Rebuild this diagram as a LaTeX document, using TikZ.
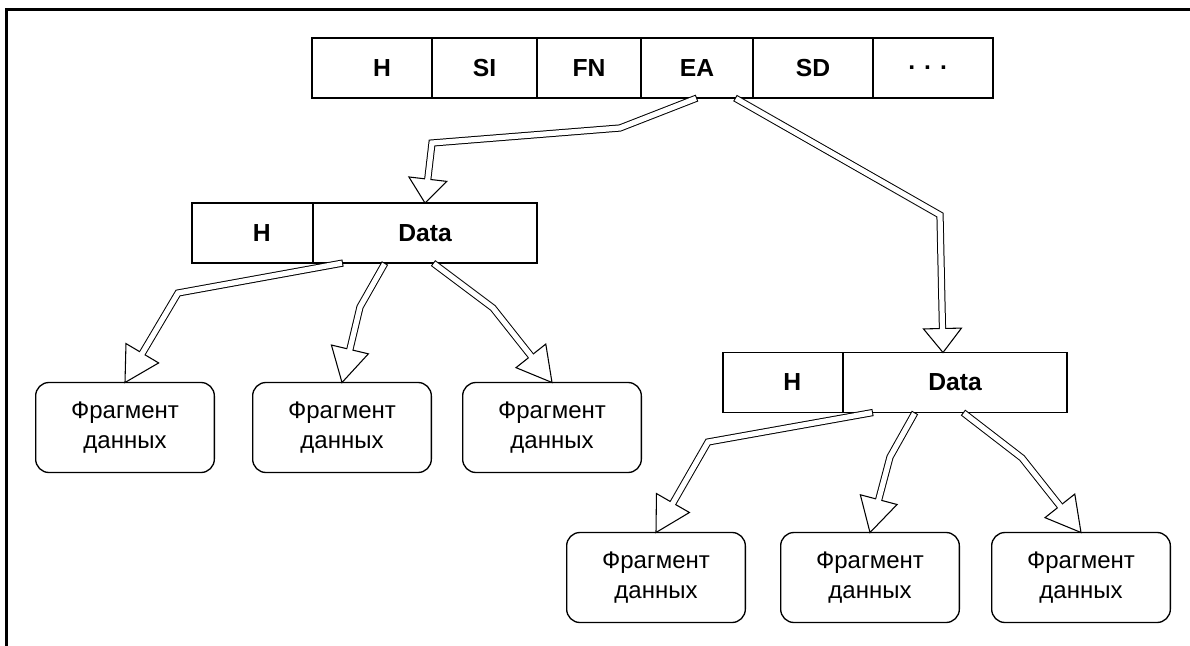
\documentclass[tikz,border=0pt]{standalone}
\usepackage{fontspec}
\setmainfont{Liberation Sans}
\usetikzlibrary{calc}

\tikzset{
  cell/.style={draw, line width=1pt, inner sep=0pt, outer sep=0pt,
    minimum width={#1*0.75pt}, minimum height=45pt,
    font=\bfseries\fontsize{18.5}{21}\selectfont},
  cellfont/.style={inner sep=0pt, font=\bfseries\fontsize{18.5}{21}\selectfont},
  frag/.style={draw, line width=1pt, rounded corners=10pt, inner sep=0pt, outer sep=0pt,
    minimum width=134pt, minimum height=67.5pt, align=center,
    font=\fontsize{18}{22.5}\selectfont},
  shaftout/.style={line width=5.4pt, line join=miter, line cap=butt},
  shaftin/.style={white, line width=3.9pt, line join=miter, line cap=butt, shorten <=0.8pt},
  headstyle/.style={draw=black, fill=white, line width=0.8pt, line join=miter},
  frameline/.style={line width=1.7pt}
}

% hollow block arrow: #1 head length (px), #2 shaft path up to its last bend,
% #3 last bend, #4 tip
\newcommand\hollowarrow[4]{%
  \pgfmathsetlengthmacro\fahl{#1*0.75pt}%
  \path (#3) coordinate (fa-b) (#4) coordinate (fa-t);
  \coordinate (fa-base) at ($(fa-t)!\fahl!(fa-b)$);
  \coordinate (fa-in) at ($(fa-base)!1.5pt!(fa-t)$);
  \coordinate (fa-l) at ($(fa-base)!14.25pt!90:(fa-t)$);
  \coordinate (fa-r) at ($(fa-base)!14.25pt!-90:(fa-t)$);
  \draw[shaftout] #2 -- (fa-base);
  \filldraw[headstyle] (fa-l) -- (fa-t) -- (fa-r) -- cycle;
  \draw[shaftin] #2 -- (fa-in);
}

\begin{document}
\begin{tikzpicture}[x=0.75pt, y=-0.75pt]
\useasboundingbox (0,0) rectangle (1190,646);

% page frame
\draw[frameline] (1190,9.5) -- (6.5,9.5) -- (6.5,646);

% record layout
\node[cell=120, label={[cellfont, xshift=7.5pt]center:H}] (h0) at (372,68) {};
\node[cell=105] (si) at (484.5,68) {SI};
\node[cell=104] (fn) at (589,68) {FN};
\node[cell=112] (ea) at (697,68) {EA};
\node[cell=120] (sd) at (813,68) {SD};
\node[cell=120, label={[cellfont, xshift=-4pt]center:. . .}] (more) at (933,68) {};

% first extent
\node[cell=121, label={[cellfont, xshift=7pt]center:H}] (h1) at (252.5,233) {};
\node[cell=224] (d1) at (425,233) {Data};

% second extent
\node[cell=120, label={[cellfont, xshift=7pt]center:H}] (h2) at (783,382.5) {};
\node[cell=224] (d2) at (955,382.5) {Data};

% data fragments
\node[frag] (f1) at (125,427.5) {Фрагмент\\данных};
\node[frag] (f2) at (342,427.5) {Фрагмент\\данных};
\node[frag] (f3) at (552,427.5) {Фрагмент\\данных};
\node[frag] (f4) at (656,577.5) {Фрагмент\\данных};
\node[frag] (f5) at (870,577.5) {Фрагмент\\данных};
\node[frag] (f6) at (1081,577.5) {Фрагмент\\данных};

% links from the EA field
\hollowarrow{24}{(ea.south) -- (620,128) -- (432,143)}{432,143}{d1.north}
\hollowarrow{24}{($(ea.south)+(38,0)$) -- (940,215)}{940,215}{$(d2.north)+(-12,0)$}

% links from the first extent
\hollowarrow{34}{($(d1.south)+(-82,0)$) -- (178,293)}{178,293}{f1.north}
\hollowarrow{34}{($(d1.south)+(-40,0)$) -- (360,307)}{360,307}{f2.north}
\hollowarrow{34}{($(d1.south)+(8,0)$) -- (493,308)}{493,308}{f3.north}

% links from the second extent
\hollowarrow{34}{($(d2.south)+(-82,0)$) -- (708,442)}{708,442}{f4.north}
\hollowarrow{34}{($(d2.south)+(-40,0)$) -- (890,457)}{890,457}{f5.north}
\hollowarrow{34}{($(d2.south)+(8,0)$) -- (1022,458)}{1022,458}{f6.north}
\end{tikzpicture}
\end{document}
